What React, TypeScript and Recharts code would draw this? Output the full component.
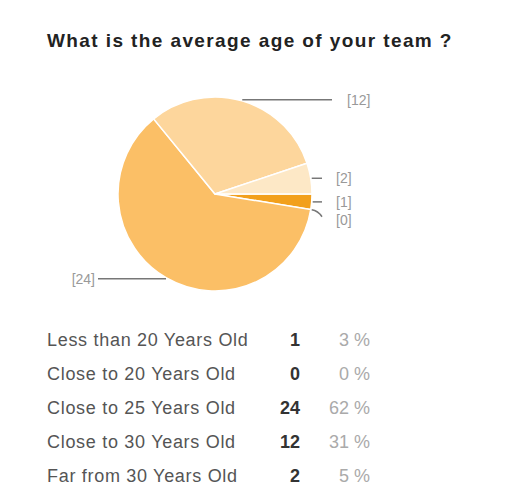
import { PieChart, Pie, Cell } from 'recharts';

const categories = [
  'Less than 20 Years Old',
  'Close to 20 Years Old',
  'Close to 25 Years Old',
  'Close to 30 Years Old',
  'Far from 30 Years Old',
];
const counts = [1, 0, 24, 12, 2];
const COLORS = ['#f2a01c', '#f6b347', '#fbbf66', '#fdd69c', '#fde8c6'];

const total = counts.reduce((a, b) => a + b, 0);
const data = categories.map((name, i) => ({ name, value: counts[i] }));

const RAD = Math.PI / 180;

function renderLabel(props: any) {
  const { cx, cy, midAngle, outerRadius, value } = props;
  const cos = Math.cos(-midAngle * RAD);
  const sin = Math.sin(-midAngle * RAD);
  const sx = cx + (outerRadius + 1) * cos;
  const sy = cy + (outerRadius + 1) * sin;
  if (cos < 0) {
    const ex = cx - outerRadius - 20;
    return (
      <g>
        <path d={`M${sx},${sy}L${ex},${sy}`} stroke="#777" strokeWidth={1.5} fill="none" />
        <text x={ex - 3} y={sy} dy={5} textAnchor="end" fontSize={14} fill="#999">
          [{value}]
        </text>
      </g>
    );
  }
  const far = Math.abs(sin) > 0.5;
  const ex = cx + outerRadius + (far ? 20 : 10);
  const ty = sy + (value === 0 ? 10 : 0);
  return (
    <g>
      <path
        d={value === 0 ? `M${sx},${sy}Q${ex - 4},${sy + 1} ${ex},${ty - 3}` : `M${sx},${sy}L${ex},${sy}`}
        stroke="#777"
        strokeWidth={1.5}
        fill="none"
      />
      <text x={ex + (far ? 15 : 14)} y={ty} dy={5} fontSize={14} fill="#999">
        [{value}]
      </text>
    </g>
  );
}

export default function App() {
  return (
    <div
      style={{
        position: 'relative',
        width: 508,
        height: 475,
        fontFamily: '"Liberation Sans", Arial, sans-serif',
        background: '#fff',
      }}
    >
      <div
        style={{
          position: 'absolute',
          left: 39,
          top: 22,
          fontSize: 19,
          fontWeight: 'bold',
          letterSpacing: 1.4,
          color: '#222',
          whiteSpace: 'nowrap',
        }}
      >
        What is the average age of your team ?
      </div>
      <div style={{ position: 'absolute', left: 0, top: 0 }}>
        <PieChart width={508} height={320}>
          <Pie
            data={data}
            dataKey="value"
            nameKey="name"
            cx={202}
            cy={181}
            outerRadius={97}
            startAngle={0}
            endAngle={-360}
            stroke="#fff"
            strokeWidth={1.5}
            label={renderLabel}
            labelLine={false}
            isAnimationActive={false}
          >
            {data.map((_d, i) => (
              <Cell key={i} fill={COLORS[i]} />
            ))}
          </Pie>
        </PieChart>
      </div>
      {categories.map((name, i) => {
        const top = 341 + i * 34 - 8 - 11;
        return (
          <div key={name} style={{ position: 'absolute', left: 0, top, width: 508, height: 22 }}>
            <span
              style={{
                position: 'absolute',
                left: 39,
                fontSize: 18,
                letterSpacing: 0.7,
                color: '#555',
                whiteSpace: 'nowrap',
              }}
            >
              {name}
            </span>
            <span
              style={{
                position: 'absolute',
                right: 508 - 292,
                fontSize: 18,
                fontWeight: 'bold',
                color: '#333',
              }}
            >
              {counts[i]}
            </span>
            <span
              style={{
                position: 'absolute',
                right: 508 - 362,
                fontSize: 18,
                color: '#aaa',
                whiteSpace: 'nowrap',
              }}
            >
              {Math.round((counts[i] / total) * 100)} %
            </span>
          </div>
        );
      })}
    </div>
  );
}
